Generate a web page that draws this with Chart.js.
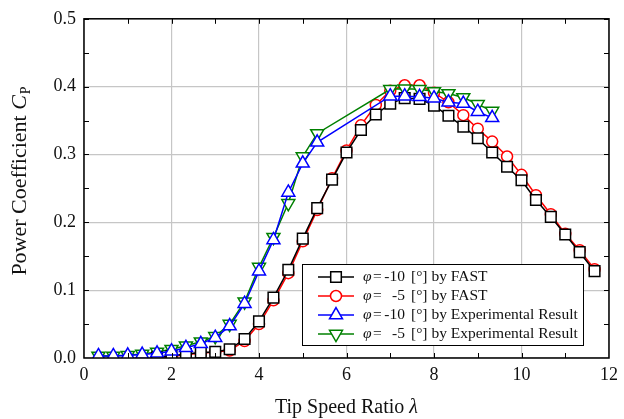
<!DOCTYPE html>
<html>
<head>
<meta charset="utf-8">
<script src="https://cdn.jsdelivr.net/npm/chart.js@4.4.0/dist/chart.umd.min.js"></script>
<style>
  html, body { margin: 0; padding: 0; background: #fff; }
</style>
</head>
<body>
<canvas id="cpChart" width="624" height="419"></canvas>
<script>
// Tip speed ratio and power coefficient, FAST simulation
const lambdaFast = [1.67, 2, 2.33, 2.67, 3, 3.33, 3.67, 4, 4.33, 4.67, 5, 5.33, 5.67, 6, 6.33, 6.67,
    7, 7.33, 7.67, 8, 8.33, 8.67, 9, 9.33, 9.67, 10, 10.33, 10.67, 11, 11.33, 11.67];
const cpFastM10 = [0.001, 0.003, 0.006, 0.008, 0.009, 0.013, 0.028, 0.054, 0.089, 0.130, 0.176, 0.221, 0.263, 0.303, 0.336, 0.359,
    0.375, 0.383, 0.382, 0.372, 0.357, 0.341, 0.324, 0.303, 0.282, 0.262, 0.233, 0.208, 0.182, 0.156, 0.128];
const cpFastM5 = [0.000, 0.002, 0.005, 0.007, 0.009, 0.011, 0.025, 0.050, 0.085, 0.125, 0.172, 0.218, 0.265, 0.306, 0.343, 0.373,
    0.394, 0.402, 0.402, 0.391, 0.377, 0.358, 0.338, 0.319, 0.297, 0.270, 0.240, 0.212, 0.183, 0.159, 0.131];

// Wind tunnel measurements
const lambdaExp = [0.33, 0.67, 1, 1.33, 1.67, 2, 2.33, 2.67, 3, 3.33, 3.67, 4, 4.33, 4.67, 5, 5.33,
    7, 7.33, 7.67, 8, 8.33, 8.67, 9, 9.33];
const cpExpM10 = [0.003, 0.003, 0.004, 0.005, 0.007, 0.010, 0.015, 0.021, 0.030, 0.047, 0.080, 0.128, 0.174, 0.244, 0.287, 0.318,
    0.386, 0.386, 0.385, 0.383, 0.377, 0.375, 0.363, 0.354];
const cpExpM5 = [0.003, 0.003, 0.004, 0.006, 0.009, 0.013, 0.018, 0.024, 0.032, 0.050, 0.083, 0.134, 0.178, 0.228, 0.297, 0.331,
    0.396, 0.397, 0.396, 0.393, 0.390, 0.384, 0.374, 0.364];

const xTickValues = [0, 2, 4, 6, 8, 10, 12];
const yTickValues = [0.0, 0.1, 0.2, 0.3, 0.4, 0.5];

const angleLabels = ["-10", "-5", "-10", "-5"];
const sourceLabels = ["by FAST", "by FAST", "by Experimental Result", "by Experimental Result"];

const serif = '"Liberation Serif", "DejaVu Serif", serif';

// one entry per curve: colour, marker and where it sits in the drawing order
const series = [
    { x: lambdaFast, y: cpFastM10, color: "#000000", style: "rect", radius: 7.5, rotation: 0, order: 1 },
    { x: lambdaFast, y: cpFastM5, color: "#ff0000", style: "circle", radius: 5.5, rotation: 0, order: 3 },
    { x: lambdaExp, y: cpExpM10, color: "#0000ff", style: "triangle", radius: 7.5, rotation: 0, order: 0 },
    { x: lambdaExp, y: cpExpM5, color: "#008000", style: "triangle", radius: 7.5, rotation: 180, order: 2 }
];

const datasets = series.map((s, i) => ({
    label: "φ = " + angleLabels[i] + " [°] " + sourceLabels[i],
    data: s.x.map((v, k) => ({ x: v, y: s.y[k] })),
    showLine: true,
    borderColor: s.color,
    borderWidth: 1.5,
    pointStyle: s.style,
    pointRadius: s.radius,
    pointRotation: s.rotation,
    pointBackgroundColor: "#ffffff",
    pointBorderColor: s.color,
    pointBorderWidth: 1.5,
    order: s.order,
    clip: 0
}));

function drawMarker(ctx, s, x, y) {
    ctx.save();
    ctx.fillStyle = "#ffffff";
    ctx.strokeStyle = s.color;
    ctx.lineWidth = 1.5;
    Chart.helpers.drawPoint(ctx, { pointStyle: s.style, radius: s.radius, rotation: s.rotation, borderWidth: 1.5 }, x, y);
    ctx.restore();
}

// axis box, inward ticks, axis titles and the boxed legend
const decorations = {
    id: "decorations",
    afterDatasetsDraw(chart) {
        const { ctx, chartArea: a, scales } = chart;
        ctx.save();
        ctx.strokeStyle = "#000";
        ctx.lineWidth = 1;
        ctx.beginPath();
        for (let v = 1; v < 12; v++) {
            const px = Math.round(scales.x.getPixelForValue(v)) + 0.5;
            ctx.moveTo(px, a.bottom); ctx.lineTo(px, a.bottom - 5);
            ctx.moveTo(px, a.top); ctx.lineTo(px, a.top + 5);
        }
        for (let v = 0.05; v < 0.5; v += 0.05) {
            const py = Math.round(scales.y.getPixelForValue(v)) + 0.5;
            ctx.moveTo(a.left, py); ctx.lineTo(a.left + 5, py);
            ctx.moveTo(a.right, py); ctx.lineTo(a.right - 5, py);
        }
        ctx.stroke();
        ctx.lineWidth = 1.5;
        ctx.strokeRect(a.left, a.top, a.right - a.left, a.bottom - a.top);

        // x axis title
        ctx.fillStyle = "#111";
        ctx.textBaseline = "alphabetic";
        const xt = "Tip Speed Ratio ";
        ctx.font = "italic 20px " + serif;
        const lw = ctx.measureText("λ").width;
        ctx.font = "20px " + serif;
        const tw = ctx.measureText(xt).width;
        const sx = (a.left + a.right) / 2 - (tw + lw) / 2;
        ctx.textAlign = "left";
        ctx.fillText(xt, sx, 413);
        ctx.font = "italic 20px " + serif;
        ctx.fillText("λ", sx + tw, 413);

        // y axis title with subscript
        ctx.save();
        ctx.translate(26, 181);
        ctx.rotate(-Math.PI / 2);
        const yt = "Power Coefficient ";
        ctx.font = "22px " + serif;
        const w1 = ctx.measureText(yt).width;
        ctx.font = "italic 22px " + serif;
        const w2 = ctx.measureText("C").width;
        ctx.font = "14px " + serif;
        const w3 = ctx.measureText("P").width;
        const ty = -(w1 + w2 + w3 + 1) / 2;
        ctx.font = "22px " + serif;
        ctx.fillText(yt, ty, 0);
        ctx.font = "italic 22px " + serif;
        ctx.fillText("C", ty + w1, 0);
        ctx.font = "14px " + serif;
        ctx.fillText("P", ty + w1 + w2 + 1, 4);
        ctx.restore();

        // legend
        const box = { left: 302, top: 264, right: 583, bottom: 345 };
        ctx.fillStyle = "#fff";
        ctx.fillRect(box.left, box.top, box.right - box.left, box.bottom - box.top);
        ctx.strokeStyle = "#000";
        ctx.lineWidth = 1;
        ctx.strokeRect(box.left + 0.5, box.top + 0.5, box.right - box.left, box.bottom - box.top);
        ctx.textBaseline = "middle";
        series.forEach((s, i) => {
            const ry = 277 + i * 19;
            ctx.strokeStyle = s.color;
            ctx.lineWidth = 1.5;
            ctx.beginPath();
            ctx.moveTo(318, ry); ctx.lineTo(354, ry);
            ctx.stroke();
            drawMarker(ctx, s, 336, ry);
            ctx.fillStyle = "#111";
            ctx.font = "italic 15.5px " + serif;
            ctx.textAlign = "left";
            ctx.fillText("φ", 363, ry);
            ctx.font = "15.5px " + serif;
            ctx.fillText("=", 373, ry);
            ctx.textAlign = "right";
            ctx.fillText(angleLabels[i], 405, ry);
            ctx.textAlign = "left";
            ctx.fillText("[°] " + sourceLabels[i], 411, ry);
        });
        ctx.restore();
    }
};

new Chart(document.getElementById("cpChart").getContext("2d"), {
    type: "scatter",
    data: { datasets: datasets },
    options: {
        responsive: false,
        devicePixelRatio: 1,
        animation: false,
        layout: { padding: { left: 0, top: 16, right: 12, bottom: 0 } },
        plugins: { legend: { display: false }, tooltip: { enabled: false } },
        scales: {
            x: {
                type: "linear",
                min: 0,
                max: 12,
                afterBuildTicks: (scale) => { scale.ticks = xTickValues.map(v => ({ value: v })); },
                afterFit: (scale) => { scale.height = 61; },
                ticks: {
                    color: "#111",
                    font: { family: serif, size: 18 },
                    padding: 6,
                    maxRotation: 0,
                    callback: (v) => String(v)
                },
                grid: { color: "#c6c6c6", lineWidth: 1.2, drawTicks: false },
                border: { display: false }
            },
            y: {
                type: "linear",
                min: 0,
                max: 0.5,
                afterBuildTicks: (scale) => { scale.ticks = yTickValues.map(v => ({ value: v })); },
                afterFit: (scale) => { scale.width = 84; },
                ticks: {
                    color: "#111",
                    font: { family: serif, size: 18 },
                    padding: 8,
                    callback: (v) => Number(v).toFixed(1)
                },
                grid: { color: "#c6c6c6", lineWidth: 1.2, drawTicks: false },
                border: { display: false }
            }
        }
    },
    plugins: [decorations]
});
</script>
</body>
</html>
